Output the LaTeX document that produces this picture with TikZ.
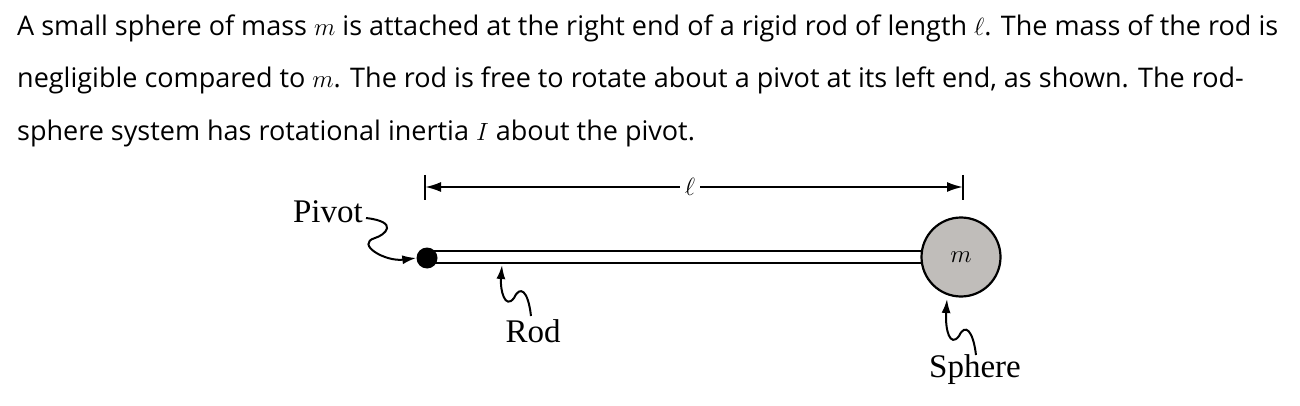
\documentclass[tikz,border=0pt]{standalone}
\usepackage{fontspec}
\setmainfont{Liberation Serif}
\newfontfamily\txtfont{Open Sans}
\usetikzlibrary{arrows.meta}
\begin{document}
\begin{tikzpicture}[x=1pt,y=-1pt,
  para/.style={anchor=base west,inner sep=0,font=\txtfont\fontsize{27}{30}\selectfont},
  lbl/.style={inner sep=0,font=\fontsize{33}{36}\selectfont},
  squig/.style={line width=2pt,-{Latex[length=14pt,width=9pt]}},
  lw/.style={line width=2.2pt}]
\useasboundingbox (0,0) rectangle (1300,406);
\node[para] (l1) at (17,36) {A small sphere of mass $m$ is attached at the right end of a rigid rod of length $\ell$. The mass of the rod is};
\node[para] (l2) at (17,88) {negligible compared to $m$. The rod is free to rotate about a pivot at its left end, as shown. The rod-};
\node[para] (l3) at (17,141) {sphere system has rotational inertia $I$ about the pivot.};
% rod
\draw[lw] (430,251) -- (922,251);
\draw[lw] (430,263) -- (922,263);
\node[circle,fill=black,minimum size=21pt,inner sep=0] (pv) at (427,258) {};
\node[circle,draw,lw,fill={rgb,255:red,192;green,189;blue,186},minimum size=79pt,inner sep=0] (sp) at (961,257) {\fontsize{33}{36}\selectfont$m$};
% dimension
\coordinate (dl) at (425,187); \coordinate (dr) at (963,187);
\draw[lw] (425,175) -- (425,200);
\draw[lw] (963,175) -- (963,200);
\node[fill=white,inner sep=5pt,font=\fontsize{30}{32}\selectfont] (ell) at (690,187) {$\ell$};
\draw[line width=2pt,-{Latex[length=16pt,width=10pt]}] (ell) -- (dl);
\draw[line width=2pt,-{Latex[length=16pt,width=10pt]}] (ell) -- (dr);
% labels
\coordinate (p0) at (366,218);
\node[lbl,anchor=east] (pt) at (363,212) {Pivot};
\node[lbl] (rt) at (533,331) {Rod};
\node[lbl] (st) at (975,370) {Sphere};
\draw[squig] (p0) .. controls (400,222) and (385,235) .. (375,238) .. controls (355,244) and (385,262) .. (pv.west);
\coordinate (r0) at (531,316);
\draw[squig] (r0) .. controls (528,290) and (520,285) .. (514,298) .. controls (505,310) and (500,290) .. (502,265);
\coordinate (s0) at (976,355);
\draw[squig] (s0) .. controls (973,330) and (965,323) .. (959,336) .. controls (950,348) and (945,330) .. (947,299);
\end{tikzpicture}
\end{document}
